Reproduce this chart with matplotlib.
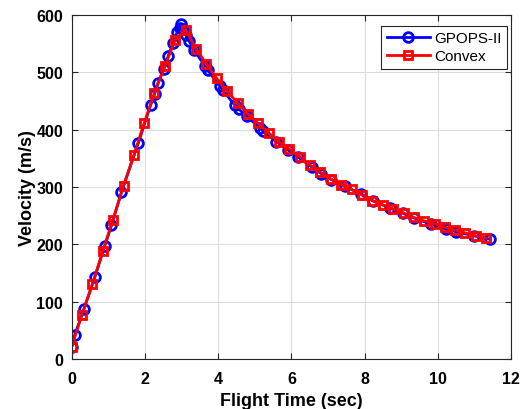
import numpy as np
import matplotlib.pyplot as plt

plt.rcParams['font.family'] = ['Liberation Sans', 'DejaVu Sans']

# GPOPS-II solution (LGR nodes, boost phase then coast phase)
t_gpops = [0.00, 0.09, 0.34, 0.64, 0.91, 1.09, 1.36, 1.82, 2.16, 2.27, 2.36, 2.52,
           2.64, 2.77, 2.88, 2.95, 3.00,
           3.05, 3.12, 3.21, 3.34, 3.64, 3.72, 4.05, 4.12, 4.46, 4.57, 4.79, 5.14,
           5.23, 5.59, 5.91, 6.18, 6.55, 6.82, 7.09, 7.45, 7.91, 8.23, 8.70, 9.05,
           9.35, 9.82, 10.21, 10.50, 10.98, 11.43]
v_gpops = [21, 43, 88, 144, 198, 233, 291, 376, 443, 462, 481, 506,
           528, 550, 569, 577, 584,
           575, 565, 554, 538, 511, 503, 475, 469, 442, 435, 423, 402,
           397, 379, 364, 352, 335, 323, 313, 301, 288, 276, 263, 254,
           246, 235, 227, 222, 215, 209]

# convex solver solution
t_convex = [0.00, 0.28, 0.57, 0.85, 1.13, 1.42, 1.70, 1.98, 2.26, 2.55, 2.83,
            3.11, 3.40, 3.68, 3.96, 4.25, 4.53, 4.81, 5.09, 5.38, 5.66, 5.94,
            6.23, 6.51, 6.79, 7.08, 7.36, 7.64, 7.92, 8.21, 8.49, 8.77, 9.06,
            9.34, 9.62, 9.91, 10.19, 10.47, 10.75, 11.04, 11.32]
v_convex = [21, 77, 131, 188, 243, 302, 355, 411, 463, 511, 556,
            574, 540, 514, 489, 467, 446, 427, 411, 394, 378, 366,
            353, 338, 326, 314, 304, 296, 286, 276, 269, 262, 255,
            247, 241, 236, 230, 225, 220, 215, 211]

fig = plt.figure(figsize=(5.26, 4.10), dpi=100)
ax = fig.add_axes([0.136, 0.121, 0.836, 0.841])

ax.plot(t_gpops, v_gpops, '-o', color='#0000ff', lw=2, ms=7, mfc='none',
        mew=2, label='GPOPS-II')
ax.plot(t_convex, v_convex, '-s', color='#ff0000', lw=2, ms=5.5, mfc='none',
        mew=2, label='Convex')

ax.set_xlim(0, 12)
ax.set_ylim(0, 600)
ax.set_xticks(np.arange(0, 13, 2))
ax.set_yticks(np.arange(0, 601, 100))
ax.grid(True, color='#dcdcdc', lw=0.8)
ax.set_axisbelow(True)
ax.tick_params(direction='in', top=True, right=True, labelsize=11.5,
               color='#262626', length=4)
ax.tick_params(axis='x', pad=8)
ax.tick_params(axis='y', pad=6)
for lab in ax.get_xticklabels() + ax.get_yticklabels():
    lab.set_fontweight('bold')
for s in ax.spines.values():
    s.set_color('#262626')
    s.set_linewidth(0.8)

ax.set_xlabel('Flight Time (sec)', fontsize=13, fontweight='bold', labelpad=5)
ax.set_ylabel('Velocity (m/s)', fontsize=13, fontweight='bold', labelpad=0)

leg = ax.legend(loc='upper right', bbox_to_anchor=(507 / 526, 1 - 27 / 410),
                bbox_transform=fig.transFigure, fontsize=11, fancybox=False,
                framealpha=1, edgecolor='#262626', handlelength=2.8,
                borderpad=0.35, labelspacing=0.25, handletextpad=0.3,
                borderaxespad=0)
leg.get_frame().set_linewidth(0.8)

fig.savefig('out.png', dpi=100)
